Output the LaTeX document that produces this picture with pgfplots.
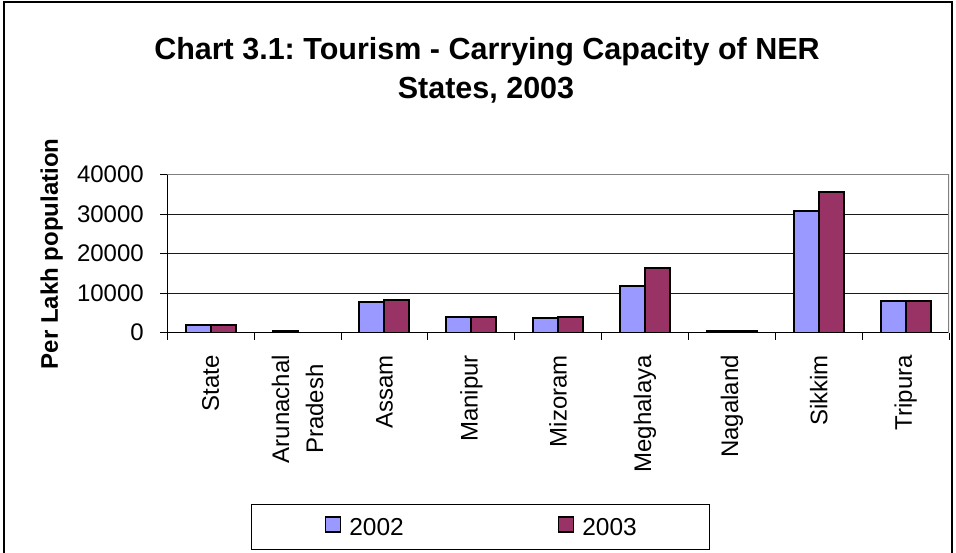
\documentclass[border=0pt]{standalone}
\usepackage{fontspec}
\setmainfont{Liberation Sans}
\usepackage{pgfplots}
\pgfplotsset{compat=1.18}
\definecolor{c2002}{HTML}{9999FF}
\definecolor{c2003}{HTML}{993366}
\frenchspacing
\begin{document}
\begin{tikzpicture}
\path[use as bounding box] (0bp,0bp) rectangle (956bp,553bp);
\draw[line width=2bp] (4bp,0bp) -- (4bp,551bp) -- (952bp,551bp) -- (952bp,0bp);
\node[font=\fontsize{30.5bp}{36bp}\selectfont\bfseries, anchor=base] at (487bp,493.7bp) {Chart 3.1: Tourism - Carrying Capacity of NER};
\node[font=\fontsize{30.5bp}{36bp}\selectfont\bfseries, anchor=base] at (486bp,454.5bp) {States, 2003};
\begin{axis}[
  at={(167.3bp,220.3bp)}, anchor=south west,
  scale only axis, width=781.7bp, height=158bp,
  ybar=0pt, bar width=25bp,
  xmin=-0.5, xmax=8.5, ymin=0, ymax=40000,
  ytick={0,10000,20000,30000,40000},
  xtick={0,1,2,3,4,5,6,7,8},
  xticklabels={State,{Arunachal\\Pradesh},Assam,Manipur,Mizoram,Meghalaya,Nagaland,Sikkim,Tripura},
  minor xtick={-0.5,0.5,1.5,2.5,3.5,4.5,5.5,6.5,7.5,8.5},
  axis lines*=left,
  axis line style={black, line width=1bp},
  tick align=outside,
  major tick length=7bp, minor tick length=7bp,
  major x tick style={draw=none},
  tick style={black, line width=1bp},
  ymajorgrids, grid style={black!90, line width=0.9bp},
  scaled y ticks=false,
  /pgf/number format/assume math mode=true,
  yticklabel style={/pgf/number format/1000 sep={}},
  tick label style={font=\fontsize{24bp}{34bp}\selectfont},
  xticklabel style={rotate=90, anchor=east, align=center},
  xticklabel shift=12bp, yticklabel shift=13bp,
  ylabel={Per Lakh population},
  ylabel style={font=\fontsize{24bp}{28bp}\selectfont\bfseries, at={(axis description cs:-0.148,0.5)}, anchor=center},
  legend columns=2,
  legend style={at={(axis description cs:0.401,-1.228)}, anchor=center, draw=black, line width=1bp,
    font=\fontsize{24.5bp}{28bp}\selectfont, inner xsep=73bp, inner ysep=12bp,
    nodes={inner sep=0pt},
    /tikz/every odd column/.style={column sep=8bp},
    /tikz/every even column/.style={column sep=154bp}},
  mylegend/.style={legend image code/.code={\draw[##1, line width=1.6bp] (0bp,-4bp) rectangle (15bp,11bp);}},
]
\addplot[fill=c2002, draw=black, line width=2bp, mylegend] coordinates {
  (0,2000) (1,500) (2,7700) (3,4100) (4,3600) (5,11700) (6,500) (7,30900) (8,8100)};
\addplot[fill=c2003, draw=black, line width=2bp, mylegend] coordinates {
  (0,2000) (2,8200) (3,4100) (4,4100) (5,16300) (6,500) (7,35500) (8,8100)};
\legend{2002,2003}
\draw[gray, line width=1.5bp] (rel axis cs:0,1) -- (rel axis cs:1,1) -- (rel axis cs:1,0);
\end{axis}
\end{tikzpicture}
\end{document}
